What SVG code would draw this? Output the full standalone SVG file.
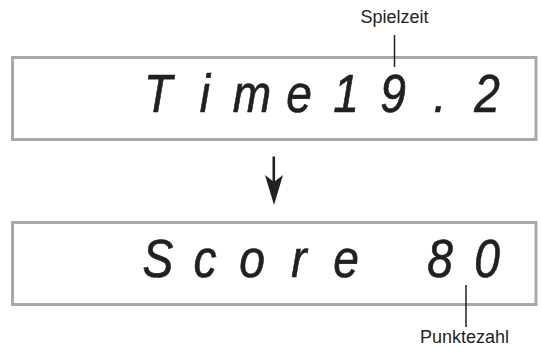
<svg xmlns="http://www.w3.org/2000/svg" width="541" height="347" viewBox="0 0 541 347">
<style>
.box{fill:none;stroke:#a9a9ab;stroke-width:3}
.lcd{font-family:"Liberation Sans",Arial,sans-serif;font-style:italic;font-size:53px;fill:#231f20;stroke:#231f20;stroke-width:0.7;text-anchor:middle}
.lbl{font-family:"Liberation Sans",Arial,sans-serif;font-size:18px;fill:#231f20;text-anchor:middle}
.lead{stroke:#231f20;stroke-width:1.5;fill:none}
</style>
<rect width="541" height="347" fill="#ffffff"/>
<g id="display-time">
<rect class="box" x="12.5" y="57.5" width="523.5" height="82"/>
<text class="lcd" y="112" transform="scale(0.87,1)"><tspan x="181.6">T</tspan><tspan x="235.6">i</tspan><tspan x="289.7">m</tspan><tspan x="343.7">e</tspan><tspan x="397.7">1</tspan><tspan x="451.7">9</tspan><tspan x="505.7">.</tspan><tspan x="559.8">2</tspan></text>
</g>
<g id="display-score">
<rect class="box" x="12.5" y="222.5" width="523.5" height="82"/>
<text class="lcd" y="277" transform="scale(0.87,1)"><tspan x="181.6">S</tspan><tspan x="235.6">c</tspan><tspan x="289.7">o</tspan><tspan x="343.7">r</tspan><tspan x="397.7">e</tspan><tspan x="505.7">8</tspan><tspan x="559.8">0</tspan></text>
</g>
<g id="label-spielzeit">
<text class="lbl" x="394.5" y="22.5">Spielzeit</text>
</g>
<g id="label-punktezahl">
<text class="lbl" x="464.5" y="343">Punktezahl</text>
</g>
<g id="connectors">
<line class="lead" x1="394.5" y1="35" x2="394.5" y2="67"/>
<line class="lead" x1="466" y1="285" x2="466" y2="327"/>
<line x1="273.8" y1="156.5" x2="273.8" y2="182" stroke="#231f20" stroke-width="2.6"/>
<polygon points="265,175 274,205 283,175 274,182" fill="#231f20"/>
</g>
</svg>
